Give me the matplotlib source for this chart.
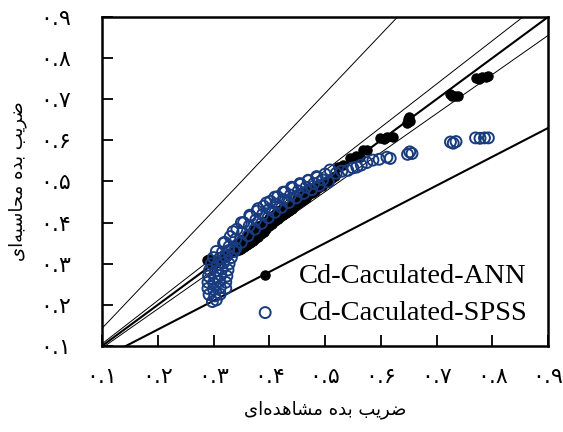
import numpy as np
import matplotlib.pyplot as plt

# ANN results (observed, calculated)
ann_x = [0.289, 0.292, 0.296, 0.300, 0.305, 0.310, 0.315, 0.320, 0.325, 0.330,
         0.335, 0.340, 0.345, 0.350, 0.355, 0.360, 0.365, 0.370, 0.375, 0.380,
         0.385, 0.390, 0.395, 0.400, 0.405, 0.410, 0.415, 0.420, 0.425, 0.430,
         0.435, 0.440, 0.445, 0.450, 0.455, 0.460, 0.465, 0.470, 0.476, 0.482,
         0.488, 0.494, 0.500, 0.506, 0.512, 0.518,
         0.340, 0.350, 0.360, 0.370, 0.380, 0.390, 0.400, 0.410, 0.420, 0.430,
         0.440, 0.450, 0.460, 0.470, 0.480,
         0.523, 0.532, 0.545, 0.555, 0.563, 0.568, 0.575, 0.599, 0.605, 0.612,
         0.622, 0.647, 0.648, 0.650, 0.652, 0.724, 0.728, 0.733, 0.738,
         0.770, 0.776, 0.782, 0.788, 0.793]
ann_y = [0.308, 0.312, 0.305, 0.300, 0.303, 0.308, 0.312, 0.316, 0.320, 0.325,
         0.328, 0.331, 0.334, 0.337, 0.341, 0.345, 0.350, 0.355, 0.360, 0.366,
         0.372, 0.378, 0.385, 0.391, 0.397, 0.403, 0.408, 0.414, 0.419, 0.424,
         0.429, 0.434, 0.440, 0.445, 0.450, 0.455, 0.461, 0.466, 0.472, 0.478,
         0.484, 0.490, 0.496, 0.502, 0.508, 0.514,
         0.345, 0.358, 0.370, 0.381, 0.392, 0.402, 0.412, 0.421, 0.430, 0.439,
         0.448, 0.457, 0.466, 0.476, 0.487,
         0.535, 0.540, 0.557, 0.563, 0.559, 0.576, 0.576, 0.606, 0.604, 0.607,
         0.608, 0.642, 0.651, 0.658, 0.646, 0.712, 0.708, 0.708, 0.707,
         0.752, 0.750, 0.753, 0.754, 0.756]

# SPSS regression results (observed, calculated)
spss_x = [0.298, 0.305, 0.292, 0.302, 0.312, 0.290, 0.300, 0.312, 0.322,
          0.290, 0.300, 0.311, 0.322, 0.291, 0.302, 0.313, 0.324,
          0.293, 0.304, 0.315, 0.326, 0.296, 0.307, 0.318, 0.328,
          0.300, 0.311, 0.322, 0.332, 0.305, 0.316, 0.327, 0.337,
          0.318, 0.328, 0.340, 0.330, 0.340, 0.350, 0.342, 0.352, 0.362,
          0.354, 0.364, 0.374, 0.366, 0.376, 0.386, 0.378, 0.388, 0.398,
          0.390, 0.400, 0.410, 0.402, 0.412, 0.422, 0.415, 0.425, 0.435,
          0.428, 0.438, 0.448, 0.442, 0.452, 0.462, 0.456, 0.466, 0.476,
          0.470, 0.480, 0.490, 0.486, 0.496, 0.506,
          0.320, 0.335, 0.350, 0.365, 0.380, 0.395, 0.410, 0.425, 0.440,
          0.455, 0.470, 0.485, 0.500,
          0.509, 0.520, 0.530, 0.541, 0.550, 0.557, 0.565, 0.575, 0.586,
          0.597, 0.611, 0.617, 0.648, 0.652, 0.656, 0.725, 0.730, 0.735,
          0.770, 0.778, 0.786, 0.793]
spss_y = [0.208, 0.212, 0.225, 0.222, 0.226, 0.240, 0.238, 0.242, 0.240,
          0.255, 0.253, 0.257, 0.255, 0.270, 0.268, 0.272, 0.270,
          0.285, 0.283, 0.287, 0.285, 0.300, 0.298, 0.302, 0.300,
          0.315, 0.313, 0.317, 0.315, 0.330, 0.328, 0.332, 0.330,
          0.350, 0.342, 0.338, 0.366, 0.360, 0.352, 0.384, 0.376, 0.368,
          0.400, 0.392, 0.384, 0.415, 0.407, 0.398, 0.428, 0.420, 0.412,
          0.440, 0.433, 0.425, 0.452, 0.445, 0.437, 0.463, 0.456, 0.449,
          0.474, 0.467, 0.460, 0.484, 0.477, 0.471, 0.493, 0.486, 0.480,
          0.502, 0.495, 0.490, 0.510, 0.504, 0.499,
          0.352, 0.378, 0.400, 0.418, 0.434, 0.448, 0.462, 0.474, 0.486,
          0.495, 0.503, 0.512, 0.518,
          0.528, 0.520, 0.525, 0.527, 0.533, 0.535, 0.540, 0.546, 0.552,
          0.554, 0.559, 0.556, 0.566, 0.572, 0.568, 0.596, 0.593, 0.597,
          0.606, 0.605, 0.606, 0.606]

# reference lines y = k * x (+-5% and +-30%)
ratios = [1 / 0.7, 1 / 0.95, 1.0, 0.95, 0.7]
widths = [0.7, 0.7, 1.5, 0.7, 1.5]

ticks = [0.1, 0.2, 0.3, 0.4, 0.5, 0.6, 0.7, 0.8, 0.9]
tick_labels = ['۰.۱', '۰.۲', '۰.۳', '۰.۴', '۰.۵', '۰.۶', '۰.۷', '۰.۸', '۰.۹']

# Persian labels, pre-shaped (presentation forms, visual order)
xlabel = '\uFBFC\uFE8D\uFEE9\uFEAA\uFEEB\uFE8E\uFEB8\uFEE3 \uFEE9\uFEAA\uFE91 \uFE90\uFBFE\uFEAE\uFEBF'   # ضریب بده مشاهده‌ای
ylabel = '\uFBFC\uFE8D\uFEEA\uFE92\uFEB3\uFE8E\uFEA4\uFEE3 \uFEE9\uFEAA\uFE91 \uFE90\uFBFE\uFEAE\uFEBF'   # ضریب بده محاسبه‌ای

fig = plt.figure(figsize=(5.63, 4.32), dpi=100)
ax = fig.add_axes([0.1812, 0.1991, 0.7922, 0.7616])

xx = np.array([0.0, 1.0])
for k, lw in zip(ratios, widths):
    ax.plot(xx, k * xx, color='black', lw=lw, zorder=1)

ax.scatter(ann_x, ann_y, s=45, color='black', edgecolors='black', lw=0.8,
           zorder=2, label='Cd-Caculated-ANN')
ax.scatter(spss_x, spss_y, s=62, facecolors='none', edgecolors='#183b80', lw=1.4,
           zorder=3, label='Cd-Caculated-SPSS')

ax.set_xlim(0.1, 0.9)
ax.set_ylim(0.1, 0.9)
ax.set_xticks(ticks)
ax.set_yticks(ticks)
ax.set_xticklabels(tick_labels, fontsize=16)
ax.set_yticklabels(tick_labels, fontsize=16)
ax.tick_params(axis='x', direction='in', length=8, width=1.3, pad=15)
ax.tick_params(axis='y', direction='in', length=8, width=1.3, pad=22)
for s in ax.spines.values():
    s.set_linewidth(1.8)

ax.set_xlabel(xlabel, fontsize=13, labelpad=10)
ax.set_ylabel(ylabel, fontsize=13, labelpad=10)

ax.legend(loc='lower right', bbox_to_anchor=(1.0, 0.0), frameon=False,
          prop={'family': 'Liberation Serif', 'size': 20.5},
          handletextpad=0.2, labelspacing=0.4, borderaxespad=0.3)

fig.savefig('out.png', dpi=100)
